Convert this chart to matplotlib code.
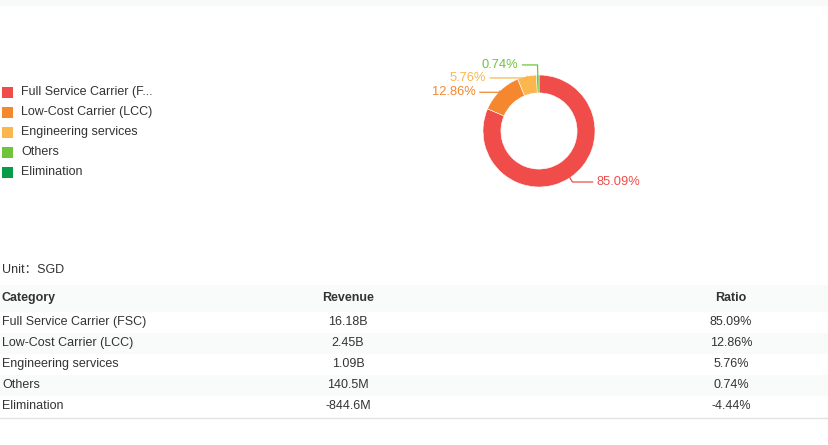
import numpy as np
import matplotlib
matplotlib.use('Agg')
import matplotlib.pyplot as plt
from matplotlib.patches import Rectangle

plt.rcParams['font.family'] = ['Liberation Sans', 'DejaVu Sans']

#### Data ####
categories = ['Full Service Carrier (FSC)', 'Low-Cost Carrier (LCC)',
              'Engineering services', 'Others', 'Elimination']
revenue = [16.18e9, 2.45e9, 1.09e9, 140.5e6, -844.6e6]
revenue_labels = ['16.18B', '2.45B', '1.09B', '140.5M', '-844.6M']
ratio = [85.09, 12.86, 5.76, 0.74, -4.44]
colors = ['#F04C4A', '#F5872F', '#FBB64D', '#6FC43A', '#089B48']
unit = 'SGD'

###################

W, H = 829, 445
fig = plt.figure(figsize=(W / 100, H / 100), dpi=100)

# full figure axes in pixel coords for legend + table
base = fig.add_axes([0, 0, 1, 1])
base.set_xlim(0, W)
base.set_ylim(H, 0)
base.axis('off')

base.add_patch(Rectangle((0, 0), W, 6, color='#f8faf9', lw=0))

# legend
for i, (name, c) in enumerate(zip(categories, colors)):
    y = 92 + i * 20
    base.add_patch(Rectangle((2, y - 5.5), 11, 11, color=c, lw=0))
    txt = name if len(name) <= 22 else name[:23] + '...'
    base.text(21, y, txt, fontsize=9, color='#333333', va='center', ha='left')

# donut
cx, cy, R = 539, 131, 56
box = 140
ax = fig.add_axes([(cx - box / 2) / W, 1 - (cy + box / 2) / H, box / W, box / H])

pos = [v for v in revenue if v > 0]
wedges, _ = ax.pie(pos, colors=colors[:len(pos)], startangle=90, counterclock=False,
                   radius=1, wedgeprops=dict(width=0.32, edgecolor='white', linewidth=0.4))
ax.set_xlim(-box / 2 / R, box / 2 / R)
ax.set_ylim(-box / 2 / R, box / 2 / R)
ax.axis('off')

# label lines (elbow radius, horizontal length in px)
elbow_r = [1.09, 0.97, 0.97, 1.18]
hor = [20, 21, 37, 15]
for i, w in enumerate(wedges):
    mid = np.deg2rad((w.theta1 + w.theta2) / 2)
    x0, y0 = np.cos(mid), np.sin(mid)
    x1, y1 = x0 * elbow_r[i], y0 * elbow_r[i]
    side = 1 if x0 > 0 else -1
    x2 = x1 + side * hor[i] / R
    ax.plot([x0, x1, x2], [y0, y1, y1], color=colors[i], lw=0.9, clip_on=False)
    ax.text(x2 + side * 4 / R, y1, '%.2f%%' % ratio[i], color=colors[i], fontsize=9.3,
            ha='left' if side > 0 else 'right', va='center', clip_on=False)

# table
base.text(2, 270, 'Unit：' + unit, fontsize=9, color='#333333', va='center',
          family=['Liberation Sans', 'Noto Sans CJK SC'])
base.add_patch(Rectangle((0, 285), W, 27, color='#f9fafa', lw=0))
hy = 298
base.text(2, hy, 'Category', fontsize=9, color='#333333', va='center', fontweight='bold')
base.text(348, hy, 'Revenue', fontsize=9, color='#333333', va='center', ha='center', fontweight='bold')
base.text(731, hy, 'Ratio', fontsize=9, color='#333333', va='center', ha='center', fontweight='bold')
for i in range(len(categories)):
    y = 322 + i * 21
    if i % 2 == 1:
        base.add_patch(Rectangle((0, y - 10.5), W, 21, color='#f9fafa', lw=0))
    base.text(2, y, categories[i], fontsize=9, color='#333333', va='center')
    base.text(348, y, revenue_labels[i], fontsize=9, color='#333333', va='center', ha='center')
    base.text(731, y, '%.2f%%' % ratio[i], fontsize=9, color='#333333', va='center', ha='center')
base.plot([0, W], [418, 418], color='#e3e3e3', lw=1)

plt.savefig('out.png', dpi=100)
